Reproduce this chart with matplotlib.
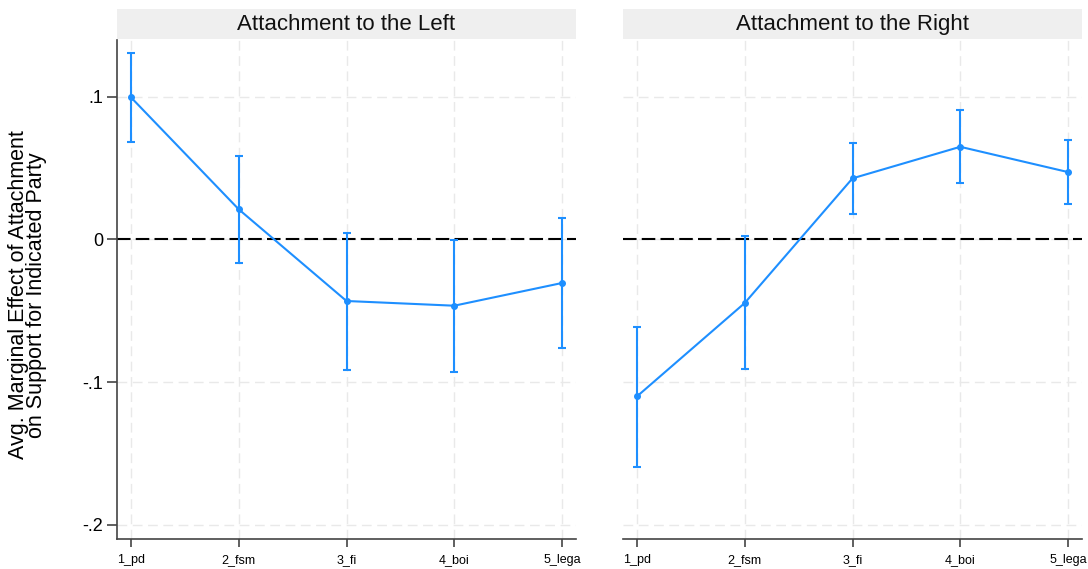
import numpy as np
import matplotlib
matplotlib.use("Agg")
import matplotlib.pyplot as plt
from matplotlib.patches import Rectangle

plt.rcParams["font.family"] = ["Liberation Sans", "DejaVu Sans"]

parties = ["1_pd", "2_fsm", "3_fi", "4_boi", "5_lega"]
panels = ["Attachment to the Left", "Attachment to the Right"]

# average marginal effects with 95% CI bounds
left_est = [0.0994, 0.0210, -0.0432, -0.0465, -0.0306]
left_hi = [0.1307, 0.0586, 0.0046, -0.0005, 0.0150]
left_lo = [0.0682, -0.0165, -0.0917, -0.0927, -0.0763]

right_est = [-0.1100, -0.0446, 0.0427, 0.0648, 0.0471]
right_hi = [-0.0614, 0.0023, 0.0676, 0.0905, 0.0695]
right_lo = [-0.1592, -0.0910, 0.0177, 0.0396, 0.0245]

yticks = [0.1, 0.0, -0.1, -0.2]
ytick_labels = [".1", "0", "-.1", "-.2"]

blue = "#1E8FFF"
W, H = 1088, 569
fig = plt.figure(figsize=(W / 100, H / 100), dpi=100)

bottom = 1 - 539 / H
height = (539 - 40) / H
axw = 459 / W
ax_l = fig.add_axes([117 / W, bottom, axw, height])
ax_r = fig.add_axes([623 / W, bottom, axw, height])

x = np.arange(len(parties))
data = [(left_est, left_lo, left_hi), (right_est, right_lo, right_hi)]

for ax, title, (est, lo, hi) in zip([ax_l, ax_r], panels, data):
    est = np.array(est)
    lo = np.array(lo)
    hi = np.array(hi)
    ax.set_xlim(-0.13, 4.13)
    ax.set_ylim(-0.2099, 0.1396)
    ax.set_xticks(x)
    ax.set_xticklabels(parties, fontsize=9)
    for lab in ax.get_xticklabels():
        lab.set_verticalalignment("baseline")
    ax.set_yticks(yticks)
    ax.grid(True, color="#e9e9e9", linestyle=(0, (7, 4)), linewidth=1.0)
    ax.set_axisbelow(True)
    ax.axhline(0, color="black", linewidth=1.5, dashes=(6.5, 2.5), zorder=2)
    ax.errorbar(x, est, yerr=[est - lo, hi - est], color=blue, linewidth=1.5,
                elinewidth=1.5, capsize=2.8, capthick=1.5, marker="o",
                markersize=4, zorder=3)
    for side in ["top", "right"]:
        ax.spines[side].set_visible(False)
    ax.spines["bottom"].set_color("#444444")
    ax.spines["bottom"].set_linewidth(1.2)
    ax.tick_params(axis="x", length=6, width=1.2, color="#444444", pad=11.5)

    # panel header strip
    strip_h = 30 / (539 - 40)
    ax.add_patch(Rectangle((0, 1.002), 1, strip_h, transform=ax.transAxes,
                           facecolor="#efefef", edgecolor="none", clip_on=False))
    ax.text(0.5, 1.002 + strip_h / 2, title, transform=ax.transAxes,
            ha="center", va="center", fontsize=16, color="#111111")

ax_l.set_yticklabels(ytick_labels, fontsize=13)
ax_l.spines["left"].set_color("#444444")
ax_l.spines["left"].set_linewidth(1.2)
ax_l.tick_params(axis="y", length=7, width=1.2, color="#444444", pad=3)
ax_l.set_ylabel("Avg. Marginal Effect of Attachment\non Support for Indicated Party",
                fontsize=15.5, linespacing=0.82)
ax_l.yaxis.set_label_coords(-0.152, 0.489)

ax_r.spines["left"].set_visible(False)
ax_r.tick_params(axis="y", length=0, labelleft=False)

fig.savefig("out.png", dpi=100)
